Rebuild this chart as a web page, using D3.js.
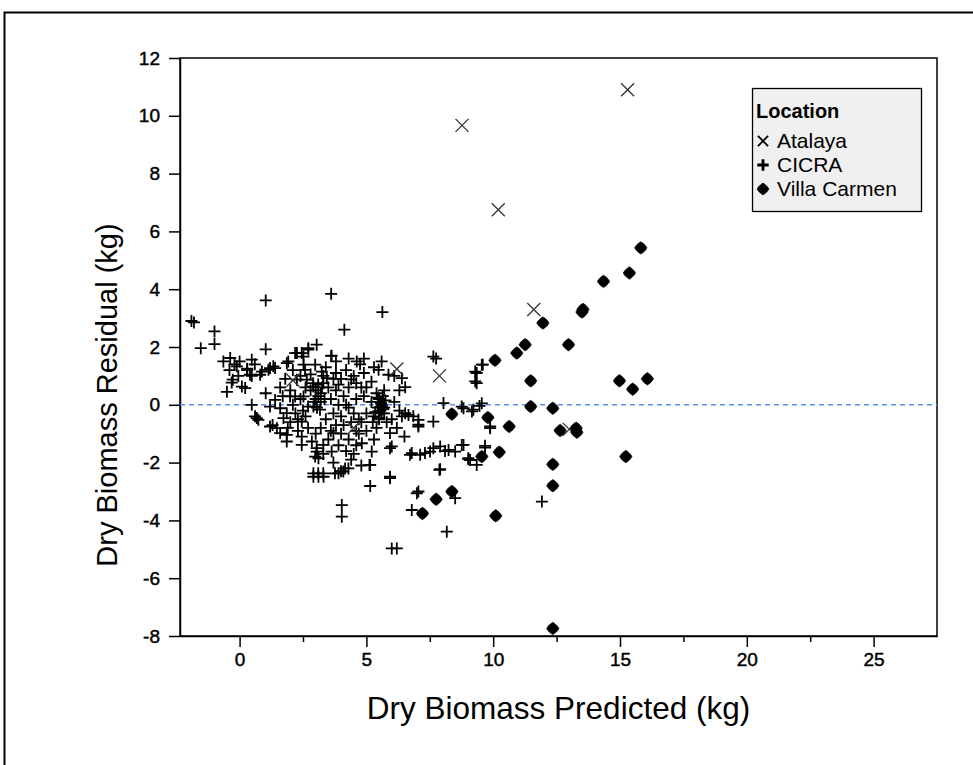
<!DOCTYPE html>
<html>
<head>
<meta charset="utf-8">
<script src="https://cdn.jsdelivr.net/npm/d3@7/dist/d3.min.js"></script>
<style>
  html, body { margin: 0; padding: 0; background: #fff; }
  svg { display: block; font-family: "Liberation Sans", Arial, sans-serif; }
</style>
</head>
<body>
<svg id="chart" width="973" height="765"></svg>
<script>
// Residuals vs predicted dry biomass, by location
const locations = ["Atalaya", "CICRA", "Villa Carmen"];

const atalayaPredicted = [15.3, 8.77, 10.2, 11.6, 7.88, 6.2, 13.0, 2.1, 4.5];
const atalayaResidual  = [10.9, 9.67, 6.75, 3.3, 1.0, 1.24, -0.85, 0.85, -0.8];

const villaPredicted = [15.82, 15.37, 14.35, 13.5, 13.54, 11.96, 12.97, 11.26, 10.93, 10.07,
  11.48, 14.98, 15.5, 16.08, 11.48, 12.35, 8.37, 9.79, 10.63, 12.64, 13.27, 13.3,
  10.24, 9.55, 15.23, 12.35, 12.35, 8.37, 10.1, 12.35, 7.75, 7.21];
const villaResidual = [5.43, 4.56, 4.27, 3.21, 3.3, 2.83, 2.08, 2.08, 1.79, 1.54,
  0.83, 0.83, 0.54, 0.9, -0.06, -0.12, -0.32, -0.44, -0.75, -0.89, -0.81, -0.95,
  -1.64, -1.79, -1.79, -2.06, -2.8, -3.0, -3.84, -7.74, -3.27, -3.76];

const cicraPredicted = [
  -1.9, -1.8, -1.53, -0.99, -0.99, 1.03, 3.61, 5.63, 4.13, 1.03, 3.61,
  -0.64, -0.37, -0.2, -0.11, -0.05, -0.27, -0.31, 0.09, 0.22, 0.48, 0.41, 0.48, 0.81, 0.88,
  1.14, 1.2, 1.33, 1.4, 1.03, 0.48, 0.61, 0.74, 0.68, 1.2, 1.6, 1.86, 1.73, 1.47, 1.2, 1.3,
  1.86, 1.6, 1.86, 1.4, 1.86, 1.92, 2.26, 2.19, 2.45, 2.52, 2.71, 3.04, 2.71, 3.63, 2.52,
  2.58, 2.98, 3.24, 3.44, 2.26, 2.65, 1.99, 2.19, 2.52, 2.91, 2.91, 2.7, 3.17, 2.45, 2.6,
  2.45, 2.85, 3.0, 3.04, 2.98, 3.3, 2.45, 3.04, 3.11, 2.91, 3.1, 3.3, 2.91, 3.11, 3.31,
  3.76, 3.9, 4.09, 4.29, 3.7, 3.63, 4.03, 4.03, 5.12, 5.15, 5.93, 5.93, 6.0, 6.2, 6.99,
  6.79, 8.17, 8.5, 11.92, 9.88, 9.68, 9.02, 9.29, 9.29, 9.55, 9.22, 9.55, 8.04, 8.83,
  7.64, 7.75, 9.35, 9.35, 9.59, 8.76, 9.16, 9.46, 6.4, 6.85, 7.05, 7.64, 9.88,
  6.79, 7.12, 7.31, 7.51, 7.64, 7.91, 8.1, 8.24, 8.5, 8.76, 8.83, 9.02, 9.09, 9.35, 9.68,
  7.88, 7.05, 6.72, 7.91, 6.53, 7.05,
  4.62, 4.75, 5.48, 5.87, 6.4, 6.53, 3.7, 4.0, 4.4, 4.6, 5.0, 5.61, 5.58, 5.66, 5.28, 5.5,
  6.66, 7.05, 5.93, 6.0, 5.21, 4.82, 4.5, 5.15, 5.93, 4.16, 4.0,
  3.3, 3.5, 3.8, 4.1, 3.6, 3.2, 3.9, 4.3, 4.6, 4.9, 5.2, 5.4, 5.7, 5.0, 4.7, 4.4, 4.0,
  3.7, 3.4, 3.2, 3.6, 4.0, 4.3, 4.7, 5.0, 5.4, 5.7, 5.8, 5.6, 5.5, 5.7, 5.65, 5.55,
  3.0, 2.8, 3.1, 3.4, 3.8, 4.2, 4.5, 4.9, 5.2, 3.9, 4.2, 4.6, 5.3, 3.5, 3.3, 2.7, 2.2,
  2.0, 2.3, 2.1, 2.4, 3.9, 4.3, 4.8, 3.8, 4.3, 4.9, 5.3, 5.6, 6.1, 6.3, 6.1, 6.3, 6.0,
  6.2, 6.5, 4.4, 4.8, 3.7, 3.3, 2.8, 0.3, -0.5,
  2.9, 3.0, 3.1, 3.2, 3.05, 3.25, 3.35, 2.95,
  5.45, 5.55, 5.6, 5.35, 5.5, 5.25, 5.45, 5.75,
  4.1, 4.5, 4.2, 3.8, 4.8, 4.6,
  2.6, 2.4, 2.1, 1.8, 1.6, 2.0, 1.7, 2.3, 2.5, 1.9,
  0.0, -0.4, 0.3, 0.6
];
const cicraResidual = [
  2.9, 2.85, 1.96, 2.54, 2.1, 3.61, 3.84, 3.21, 2.6, 1.92, 1.69,
  1.5, 1.62, 1.4, 1.33, 1.0, 0.87, 0.77, 0.63, 0.58, 1.56, 1.04, 1.0, 1.04, 1.15,
  1.21, 1.27, 1.33, 1.27, 0.4, 0.0, -0.4, -0.52, -0.46, -0.06, -0.12, -0.29, -0.46, -0.81, -0.75, -0.7,
  -1.04, -0.98, -1.27, 0.17, 1.44, 1.5, 1.79, 1.79, 1.79, 1.67, 1.91, 2.08, 1.96, 1.7, 1.39,
  1.21, 1.39, 1.15, 0.92, 0.87, 0.87, 0.29, 0.29, 0.29, 0.63, -0.06, -0.06, -0.17, -0.58, -0.4,
  -1.1, -1.27, -1.0, -1.5, -1.79, -1.39, -1.39, -1.62, -1.85, -2.37, -2.37, -2.37, -2.49, -2.49, -2.49,
  -2.37, -2.37, -2.31, -2.2, -0.98, -1.62, -3.47, -3.87, -2.08, -2.81, -2.54, -1.5, -4.97, -4.97, -3.06,
  -3.64, -4.39, -3.23, -3.35, -0.81, -1.48, -1.88, 0.81, 1.15, 1.39, -0.17, 0.05, 0.06, -0.12,
  1.67, 1.6, 1.1, 0.75, 1.39, -0.06, -0.23, -0.04, -0.4, -0.4, -0.75, -0.58, -0.75,
  -1.67, -1.73, -1.67, -1.62, -1.5, -1.44, -1.6, -1.56, -1.62, -1.39, -1.39, -1.85, -1.91, -2.08, -1.42,
  -2.25, -3.0, -1.73, -2.23, -0.29, -0.52,
  1.5, 1.4, 1.21, 1.04, 0.92, 0.61, 0.9, 0.9, 0.88, 0.75, 0.6, -0.06, 0.05, -0.15, -0.4, -0.5,
  -0.35, -0.69, -0.98, -1.44, -1.62, -1.33, -1.7, -2.08, -2.49, -2.2, -2.3,
  1.0, 0.6, 0.5, 0.3, 0.2, 0.4, 0.0, -0.1, 0.2, 0.3, 0.1, 0.4, 0.5, -0.3, -0.5, -0.6, -0.4,
  -0.3, -0.5, -0.8, -0.9, -1.0, -1.2, -1.0, -0.9, -0.8, -0.3, -0.6, 0.0, 0.2, -0.1, 0.3, -0.2,
  0.2, 0.5, 0.7, 1.3, 1.1, 1.2, 1.0, 1.1, 0.8, -1.4, -1.6, -1.4, -1.2, -1.2, -1.7, -0.8, -0.3,
  -0.6, -0.9, 0.0, 0.2, 0.7, 0.6, 0.6, 1.5, 1.6, 1.6, 1.3, 1.5, 1.0, 0.5, 0.1, -0.2, -0.5,
  -0.8, -1.1, -1.9, -2.1, -2.0, 0.75, 1.05, 1.2, 0.45,
  0.75, 0.5, 0.3, 0.1, -0.1, 0.6, 0.2, 0.1,
  -0.1, 0.1, -0.3, -0.25, -0.45, -0.6, 0.25, 0.15,
  -0.7, -0.3, 0.0, -0.7, -0.6, -0.9,
  0.6, 1.0, 1.2, 0.9, 0.6, 0.5, 0.3, -0.5, -0.2, -0.8,
  1.5, 1.2, 1.25, 1.4
];

const xTickValues = [0, 5, 10, 15, 20, 25];
const xMinorTickValues = [2.5, 7.5, 12.5, 17.5, 22.5];
const yTickValues = [-8, -6, -4, -2, 0, 2, 4, 6, 8, 10, 12];

const svg = d3.select("#chart");

// outer frame (only its top-left corner falls inside the page)
svg.append("rect")
  .attr("x", 4.5).attr("y", 12.5)
  .attr("width", 1000).attr("height", 800)
  .attr("fill", "none").attr("stroke", "#000").attr("stroke-width", 2);

const x = d3.scaleLinear().domain([-2.35, 27.5]).range([180, 937]);
const y = d3.scaleLinear().domain([-8, 12]).range([636, 58]);

const plainNumber = d => String(d);

// axes
svg.append("g").attr("transform", `translate(0,${y.range()[0]})`)
  .call(d3.axisBottom(x).tickValues(xTickValues).tickFormat(plainNumber)
    .tickSize(11).tickSizeOuter(0).tickPadding(6));
svg.append("g").attr("transform", `translate(0,${y.range()[0]})`)
  .call(d3.axisBottom(x).tickValues(xMinorTickValues).tickSize(6).tickSizeOuter(0).tickFormat(""))
  .select(".domain").remove();
svg.append("g").attr("transform", `translate(${x.range()[0]},0)`)
  .call(d3.axisLeft(y).tickValues(yTickValues).tickFormat(plainNumber)
    .tickSize(11).tickSizeOuter(0).tickPadding(9));

svg.selectAll(".tick line").attr("stroke", "#000").attr("stroke-width", 1.5);
svg.selectAll(".domain").attr("stroke", "#000").attr("stroke-width", 1.5);
svg.selectAll(".tick text")
  .attr("fill", "#000")
  .attr("stroke", "#000").attr("stroke-width", 0.45)
  .style("font-family", "'Liberation Sans', Arial, sans-serif")
  .style("font-size", "19px");

// plot border
svg.append("rect")
  .attr("x", x.range()[0]).attr("y", y.range()[1])
  .attr("width", x.range()[1] - x.range()[0])
  .attr("height", y.range()[0] - y.range()[1])
  .attr("fill", "none").attr("stroke", "#000").attr("stroke-width", 1.5);

// zero reference line
svg.append("line")
  .attr("x1", x.range()[0]).attr("x2", x.range()[1])
  .attr("y1", y(0)).attr("y2", y(0))
  .attr("stroke", "#5b8ff0").attr("stroke-width", 1.5)
  .attr("stroke-dasharray", "5,4");

// axis titles
svg.append("text")
  .attr("x", (x.range()[0] + x.range()[1]) / 2).attr("y", 719)
  .attr("text-anchor", "middle")
  .style("font-size", "31.5px").attr("fill", "#000")
  .text("Dry Biomass Predicted (kg)");
svg.append("text")
  .attr("transform", "translate(117,395) rotate(-90)")
  .attr("text-anchor", "middle")
  .style("font-size", "29px").attr("fill", "#000")
  .text("Dry Biomass Residual (kg)");

// marker shapes
const plusPath = "M-6,0H6M0,-6V6";
const crossPath = "M-6.5,-6.5L6.5,6.5M-6.5,6.5L6.5,-6.5";
const blobPath = "M0,-6.2L2.4,-4.6L4.6,-2.4L6.2,0L4.6,2.4L2.4,4.6L0,6.2L-2.4,4.6L-4.6,2.4L-6.2,0L-4.6,-2.4L-2.4,-4.6Z";

const plot = svg.append("g");

plot.selectAll("path.cicra")
  .data(d3.zip(cicraPredicted, cicraResidual))
  .join("path")
  .attr("class", "cicra")
  .attr("transform", d => `translate(${x(d[0])},${y(d[1])})`)
  .attr("d", plusPath)
  .attr("fill", "none").attr("stroke", "#000").attr("stroke-width", 1.8);

plot.selectAll("path.atalaya")
  .data(d3.zip(atalayaPredicted, atalayaResidual))
  .join("path")
  .attr("class", "atalaya")
  .attr("transform", d => `translate(${x(d[0])},${y(d[1])})`)
  .attr("d", crossPath)
  .attr("fill", "none").attr("stroke", "#333").attr("stroke-width", 1.3);

plot.selectAll("path.villa")
  .data(d3.zip(villaPredicted, villaResidual))
  .join("path")
  .attr("class", "villa")
  .attr("transform", d => `translate(${x(d[0])},${y(d[1])})`)
  .attr("d", blobPath)
  .attr("fill", "#000").attr("stroke", "#000").attr("stroke-width", 0.6);

// legend
const legend = svg.append("g").attr("transform", "translate(752,88)");
legend.append("rect")
  .attr("x", 0.5).attr("y", 0.5).attr("width", 169).attr("height", 123)
  .attr("fill", "#f0f0f0").attr("stroke", "#000").attr("stroke-width", 1.3);
legend.append("text")
  .attr("x", 4).attr("y", 30)
  .style("font-size", "20px").style("font-weight", "bold").attr("fill", "#000")
  .text("Location");
const legendShapes = [
  { d: crossPath, fill: "none", stroke: "#000", sw: 2.4, scale: 0.78 },
  { d: plusPath, fill: "none", stroke: "#000", sw: 3, scale: 0.95 },
  { d: blobPath, fill: "#000", stroke: "#000", sw: 0.8, scale: 0.95 }
];
const items = legend.selectAll("g.item")
  .data(locations)
  .join("g")
  .attr("class", "item")
  .attr("transform", (d, i) => `translate(0,${53 + i * 24})`);
items.append("path")
  .attr("transform", (d, i) => `translate(11,0) scale(${legendShapes[i].scale})`)
  .attr("d", (d, i) => legendShapes[i].d)
  .attr("fill", (d, i) => legendShapes[i].fill)
  .attr("stroke", (d, i) => legendShapes[i].stroke)
  .attr("stroke-width", (d, i) => legendShapes[i].sw);
items.append("text")
  .attr("x", 25).attr("y", 7)
  .style("font-size", "21px").attr("fill", "#000")
  .text(d => d);
</script>
</body>
</html>
